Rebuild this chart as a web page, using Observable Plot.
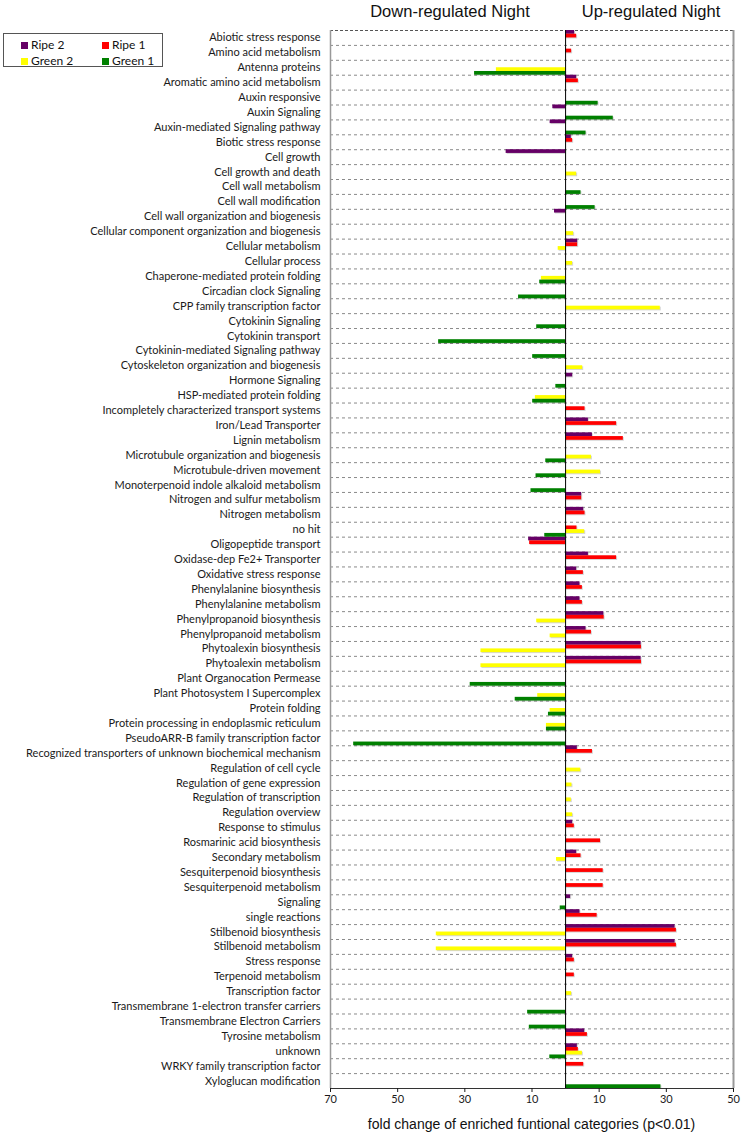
<!DOCTYPE html>
<html>
<head>
<meta charset="utf-8">
<script src="https://cdn.jsdelivr.net/npm/d3@7"></script>
<script src="https://cdn.jsdelivr.net/npm/@observablehq/plot@0.6"></script>
<style>
  body { margin: 0; background: #fff; }
  #wrap { position: relative; width: 742px; height: 1136px; overflow: hidden; background: #fff; }
  #wrap svg { position: absolute; left: 0; top: 0; }
  .title { position: absolute; top: 3px; font-family: "Liberation Sans", Arial, sans-serif; font-size: 16.5px; line-height: 1; color: #111; transform: translateX(-50%); white-space: nowrap; }
  #xtitle { position: absolute; top: 1117px; left: 531.5px; transform: translateX(-50%); font-family: "Liberation Sans", Arial, sans-serif; font-size: 14px; line-height: 1; color: #111; white-space: nowrap; }
  #legend { position: absolute; left: 3px; top: 33px; width: 160px; height: 34px; border: 1px solid #555; box-sizing: border-box; background: #fff; font-family: Lato, sans-serif; font-size: 12px; color: #111; }
  .li { position: absolute; display: flex; align-items: center; white-space: nowrap; line-height: 1; }
  .sw { width: 7px; height: 7px; margin-right: 3px; display: inline-block; }
</style>
</head>
<body>
<div id="wrap">
  <div class="title" style="left:450px">Down-regulated Night</div>
  <div class="title" style="left:651px">Up-regulated Night</div>
  <div id="legend"></div>
  <div id="xtitle">fold change of enriched funtional categories (p&lt;0.01)</div>
</div>
<script>
const categories = [
  "Abiotic stress response", "Amino acid metabolism", "Antenna proteins", "Aromatic amino acid metabolism",
  "Auxin responsive", "Auxin Signaling", "Auxin-mediated Signaling pathway", "Biotic stress response",
  "Cell growth", "Cell growth and death", "Cell wall metabolism", "Cell wall modification",
  "Cell wall organization and biogenesis", "Cellular component organization and biogenesis", "Cellular metabolism", "Cellular process",
  "Chaperone-mediated protein folding", "Circadian clock Signaling", "CPP family transcription factor", "Cytokinin Signaling",
  "Cytokinin transport", "Cytokinin-mediated Signaling pathway", "Cytoskeleton organization and biogenesis", "Hormone Signaling",
  "HSP-mediated protein folding", "Incompletely characterized transport systems", "Iron/Lead Transporter", "Lignin metabolism",
  "Microtubule organization and biogenesis", "Microtubule-driven movement", "Monoterpenoid indole alkaloid metabolism", "Nitrogen and sulfur metabolism",
  "Nitrogen metabolism", "no hit", "Oligopeptide transport", "Oxidase-dep Fe2+ Transporter",
  "Oxidative stress response", "Phenylalanine biosynthesis", "Phenylalanine metabolism", "Phenylpropanoid biosynthesis",
  "Phenylpropanoid metabolism", "Phytoalexin biosynthesis", "Phytoalexin metabolism", "Plant Organocation Permease",
  "Plant Photosystem I Supercomplex", "Protein folding", "Protein processing in endoplasmic reticulum", "PseudoARR-B family transcription factor",
  "Recognized transporters of unknown biochemical mechanism", "Regulation of cell cycle", "Regulation of gene expression", "Regulation of transcription",
  "Regulation overview", "Response to stimulus", "Rosmarinic acid biosynthesis", "Secondary metabolism",
  "Sesquiterpenoid biosynthesis", "Sesquiterpenoid metabolism", "Signaling", "single reactions",
  "Stilbenoid biosynthesis", "Stilbenoid metabolism", "Stress response", "Terpenoid metabolism",
  "Transcription factor", "Transmembrane 1-electron transfer carriers", "Transmembrane Electron Carriers", "Tyrosine metabolism",
  "unknown", "WRKY family transcription factor", "Xyloglucan modification"
];

// Negative = down-regulated (drawn to the left), positive = up-regulated
const ripe2 = [
  2.7, null, null, 3.3, null, -3.8, -4.6, 1.7, -17.7, null,
  null, null, -3.3, null, 3.6, null, null, null, null, null,
  null, null, null, 2.1, null, null, 6.8, 8.0, null, null,
  null, 4.8, 5.4, null, -11.0, 6.8, 3.3, 4.3, 4.3, 11.4,
  6.1, 22.5, 22.5, null, null, null, null, null, 3.5, null,
  null, null, null, 2.1, null, 3.3, null, null, 1.5, 4.3,
  32.6, 32.6, 2.1, null, null, null, null, 5.7, 3.5, null,
  null
];
const ripe1 = [
  3.3, 1.8, null, 3.8, null, null, null, 2.1, null, null,
  null, null, null, null, 3.6, null, null, null, null, null,
  null, null, null, null, null, 5.8, 15.2, 17.2, null, null,
  null, 4.8, 5.8, 3.4, -10.7, 15.2, 5.3, 5.0, 5.0, 11.5,
  7.7, 22.6, 22.6, null, null, null, null, null, 8.0, null,
  null, null, null, 2.6, 10.4, 4.6, 11.2, 11.2, null, 9.4,
  33.0, 33.0, 2.6, 2.6, null, null, null, 6.5, 3.8, 5.4,
  null
];
const green2 = [
  null, null, -20.6, null, null, null, null, null, null, 3.3,
  null, null, null, 2.4, -2.2, 2.1, -7.2, null, 28.2, null,
  null, null, 5.1, null, -9.0, null, null, null, 7.7, 10.4,
  null, null, null, 5.7, null, null, null, null, null, -8.6,
  -4.6, -25.2, -25.2, null, -8.3, -4.6, -5.7, null, null, 4.5,
  1.9, 1.7, 2.1, null, null, -2.7, null, null, null, null,
  -38.5, -38.5, null, null, 1.8, null, null, null, 5.0, null,
  null
];
const green1 = [
  null, null, -27.1, null, 9.7, 14.2, 6.1, null, null, null,
  4.6, 8.8, null, null, null, null, -7.7, -14.0, null, -8.6,
  -37.8, -9.8, null, -2.9, -9.8, null, null, null, -5.9, -8.8,
  -10.3, null, null, -6.2, null, null, null, null, null, null,
  null, null, null, -28.4, -15.0, -5.1, -5.7, -63.1, null, null,
  null, null, null, null, null, null, null, null, -1.6, null,
  null, null, null, null, null, -11.3, -10.8, null, -4.7, null,
  28.4
];

const seriesNames = ["Ripe 2", "Ripe 1", "Green 2", "Green 1"];
const seriesColors = ["#660066", "#FF0000", "#FFFF00", "#008000"];
const xTicks = [-70, -50, -30, -10, 10, 30, 50];
const xDomain = [-70, 50];

const n = categories.length;
const table = [];
[ripe2, ripe1, green2, green1].forEach((arr, j) => {
  arr.forEach((v, i) => {
    if (v != null) table.push({category: categories[i], i, j, series: seriesNames[j], value: v});
  });
});
const k = seriesNames.length;
const y1 = d => d.i + d.j / k;
const y2 = d => d.i + (d.j + 1) / k;

const chart = Plot.plot({
  width: 742,
  height: 1136,
  marginLeft: 330,
  marginRight: 9,
  marginTop: 30,
  marginBottom: 48,
  style: {fontFamily: "Lato, sans-serif", fontSize: "11px", color: "#1a1a1a", background: "white"},
  x: {domain: xDomain},
  y: {domain: [0, n], reverse: true},
  color: {domain: seriesNames, range: seriesColors},
  marks: [
    Plot.ruleY(d3.range(1, n), {stroke: "#8a8a8a", strokeDasharray: "3,3"}),
    Plot.ruleY([0], {stroke: "#555", strokeDasharray: "3,2"}),
    Plot.rect(table, {x1: 0, x2: "value", y1, y2, fill: "#000", fillOpacity: 0.16, dx: 1, dy: 1}),
    Plot.rect(table, {x1: 0, x2: "value", y1, y2, fill: "series"}),
    Plot.ruleX([0], {stroke: "#000"}),
    Plot.ruleX([xDomain[0]], {stroke: "#999", strokeWidth: 1.5}),
    Plot.ruleX([xDomain[1]], {stroke: "#999", strokeWidth: 2}),
    Plot.ruleY([n], {stroke: "#333", strokeWidth: 1.2}),
    Plot.axisY({ticks: categories.map((c, i) => i + 0.5), tickFormat: d => categories[Math.floor(d)], tickSize: 0, tickPadding: 10, label: null}),
    Plot.axisX({ticks: xTicks, tickFormat: d => Math.abs(d), tickSize: 4, tickPadding: 3, label: null})
  ]
});
document.getElementById("wrap").prepend(chart);

// Legend
const legend = document.getElementById("legend");
const pos = [[17, 5], [98, 5], [17, 21], [98, 21]];
seriesNames.forEach((s, j) => {
  const el = document.createElement("div");
  el.className = "li";
  el.style.left = pos[j][0] + "px";
  el.style.top = pos[j][1] + "px";
  el.innerHTML = `<span class="sw" style="background:${seriesColors[j]}"></span>${s}`;
  legend.appendChild(el);
});
</script>
</body>
</html>
